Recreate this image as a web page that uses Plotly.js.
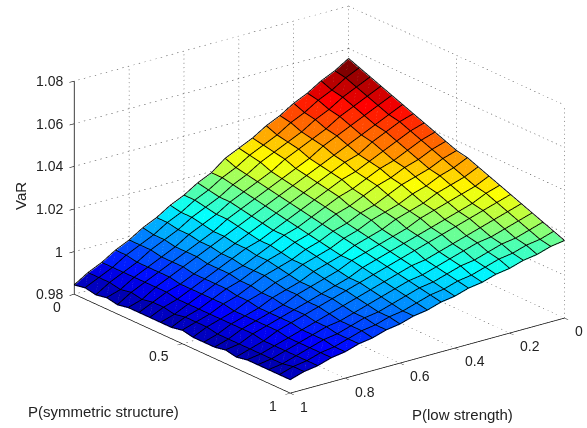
<!DOCTYPE html>
<html>
<head>
<meta charset="utf-8">
<script src="https://cdn.plot.ly/plotly-3.0.1.min.js"></script>
<style>html,body{margin:0;padding:0;background:#fff}#c{width:587px;height:428px}</style>
</head>
<body>
<div id="c"></div>
<script>
const pLow = [0,.05,.1,.15,.2,.25,.3,.35,.4,.45,.5,.55,.6,.65,.7,.75,.8,.85,.9,.95,1];
const pSym = [0,.05,.1,.15,.2,.25,.3,.35,.4,.45,.5,.55,.6,.65,.7,.75,.8,.85,.9,.95,1];
// VaR: one row per pSym, one column per pLow
const VaR = [
[1.055,1.051,1.048,1.044,1.041,1.037,1.034,1.030,1.027,1.024,1.019,1.016,1.012,1.009,1.005,1.002,.998,.995,.991,.988,.984],
[1.053,1.050,1.046,1.043,1.039,1.036,1.032,1.029,1.026,1.022,1.019,1.015,1.012,1.008,1.005,1.001,.998,.995,.991,.988,.985],
[1.051,1.048,1.045,1.041,1.038,1.034,1.031,1.028,1.025,1.021,1.018,1.014,1.011,1.008,1.004,1.001,.998,.994,.991,.988,.984],
[1.049,1.046,1.043,1.040,1.036,1.033,1.030,1.027,1.023,1.020,1.017,1.014,1.010,1.007,1.004,1.000,.997,.994,.991,.987,.985],
[1.047,1.044,1.041,1.038,1.035,1.032,1.028,1.025,1.022,1.019,1.016,1.013,1.010,1.006,1.003,1.000,.997,.994,.991,.988,.984],
[1.045,1.042,1.039,1.036,1.033,1.030,1.027,1.024,1.021,1.018,1.015,1.012,1.009,1.006,1.003,1.000,.997,.994,.991,.987,.985],
[1.043,1.041,1.038,1.035,1.031,1.029,1.026,1.023,1.020,1.017,1.014,1.011,1.008,1.005,1.002,.999,.996,.993,.991,.988,.985],
[1.041,1.039,1.036,1.033,1.030,1.027,1.025,1.022,1.019,1.016,1.013,1.010,1.007,1.005,1.002,.999,.996,.993,.990,.988,.985],
[1.039,1.037,1.034,1.031,1.029,1.026,1.023,1.021,1.018,1.015,1.012,1.010,1.007,1.004,1.001,.999,.996,.993,.990,.987,.985],
[1.037,1.035,1.032,1.030,1.027,1.025,1.022,1.019,1.017,1.014,1.011,1.009,1.006,1.004,1.001,.998,.996,.993,.990,.988,.985],
[1.035,1.033,1.030,1.028,1.026,1.023,1.020,1.018,1.015,1.013,1.010,1.008,1.005,1.003,1.001,.998,.995,.993,.990,.988,.986],
[1.034,1.031,1.029,1.026,1.024,1.021,1.019,1.017,1.014,1.012,1.009,1.007,1.005,1.002,1.000,.997,.995,.992,.990,.988,.985],
[1.032,1.029,1.027,1.025,1.022,1.020,1.018,1.015,1.013,1.011,1.008,1.006,1.004,1.001,.999,.997,.994,.992,.990,.987,.985],
[1.030,1.027,1.025,1.023,1.021,1.019,1.016,1.014,1.012,1.010,1.008,1.005,1.003,1.001,.999,.996,.994,.992,.990,.987,.985],
[1.028,1.026,1.023,1.021,1.019,1.017,1.015,1.013,1.011,1.009,1.007,1.004,1.002,1.000,.998,.996,.994,.992,.990,.987,.986],
[1.026,1.024,1.022,1.020,1.018,1.016,1.014,1.012,1.010,1.008,1.006,1.004,1.002,1.000,.998,.996,.994,.992,.989,.987,.985],
[1.024,1.022,1.020,1.018,1.016,1.014,1.012,1.010,1.009,1.007,1.005,1.003,1.001,.999,.997,.995,.993,.991,.989,.987,.986],
[1.022,1.020,1.018,1.016,1.015,1.013,1.011,1.009,1.007,1.006,1.004,1.002,1.000,.998,.996,.995,.993,.991,.989,.987,.986],
[1.020,1.018,1.016,1.015,1.013,1.011,1.010,1.008,1.006,1.005,1.003,1.001,.999,.998,.996,.994,.993,.991,.989,.987,.986],
[1.018,1.016,1.015,1.013,1.012,1.010,1.008,1.007,1.005,1.004,1.002,1.000,.999,.997,.996,.994,.992,.991,.989,.988,.986],
[1.016,1.015,1.013,1.012,1.010,1.009,1.007,1.006,1.004,1.003,1.001,1.000,.998,.997,.995,.994,.992,.991,.989,.988,.986]
];
const lowTicks = [0,.2,.4,.6,.8,1];
const symTicks = [0,.5,1];
const varTicks = [.98,1,1.02,1.04,1.06,1.08];
const varLabels = ['0.98','1','1.02','1.04','1.06','1.08'];
const lowLabels = ['0','0.2','0.4','0.6','0.8','1'];
const symLabels = ['0','0.5','1'];
const jet = [[0,'#00008f'],[.125,'#0000ff'],[.375,'#00ffff'],[.625,'#ffff00'],[.875,'#ff0000'],[1,'#800000']];

const n = pSym.length, m = pLow.length;
const mx=[],my=[],mz=[],ti=[],tj=[],tk=[],cell=[];
for(let r=0;r<n;r++)for(let c=0;c<m;c++){mx.push(pLow[c]);my.push(pSym[r]);mz.push(VaR[r][c]);}
for(let r=0;r<n-1;r++)for(let c=0;c<m-1;c++){
  const a=r*m+c,b=a+1,d=a+m,e=d+1;
  ti.push(a,a);tj.push(b,e);tk.push(e,d);
  cell.push(VaR[r][c],VaR[r][c]);
}
const traces=[{type:'mesh3d',x:mx,y:my,z:mz,i:ti,j:tj,k:tk,intensity:cell,intensitymode:'cell',
  colorscale:jet,cmin:.984,cmax:1.055,showscale:false,flatshading:true,hoverinfo:'skip',
  lighting:{ambient:1,diffuse:0,specular:0,roughness:1,fresnel:0}}];

// Wire lifted a hair above the facets so it does not fight with them in the depth buffer
const lift=.0004;
const wx=[],wy=[],wz=[];
for(let r=0;r<n;r++){for(let c=0;c<m;c++){wx.push(pLow[c]);wy.push(pSym[r]);wz.push(VaR[r][c]+lift);}wx.push(null);wy.push(null);wz.push(null);}
for(let c=0;c<m;c++){for(let r=0;r<n;r++){wx.push(pLow[c]);wy.push(pSym[r]);wz.push(VaR[r][c]+lift);}wx.push(null);wy.push(null);wz.push(null);}
traces.push({type:'scatter3d',mode:'lines',x:wx,y:wy,z:wz,line:{color:'#000',width:1.8},connectgaps:false,hoverinfo:'skip',showlegend:false});

// Faint pale dash across each cell's diagonal, as in the exported figure
const dx=[],dy=[],dz=[];
for(let r=0;r<n-1;r++)for(let c=0;c<m-1;c++){
  const mid=t=>{dx.push(pLow[c]+(pLow[c+1]-pLow[c])*t);dy.push(pSym[r]+(pSym[r+1]-pSym[r])*t);dz.push(VaR[r][c]+(VaR[r+1][c+1]-VaR[r][c])*t+lift);};
  mid(.3);mid(.7);dx.push(null);dy.push(null);dz.push(null);
}
traces.push({type:'scatter3d',mode:'lines',x:dx,y:dy,z:dz,opacity:.2,line:{color:'#fff',width:1},connectgaps:false,hoverinfo:'skip',showlegend:false});

const gx=[],gy=[],gz=[];
const z0=varTicks[0],z1=varTicks[varTicks.length-1];
const seg=(a,b,cnt)=>{ for(let q=0;q<cnt;q++){const f=q/cnt,h=(q+.25)/cnt;
  gx.push(a[0]+(b[0]-a[0])*f,a[0]+(b[0]-a[0])*h,null);
  gy.push(a[1]+(b[1]-a[1])*f,a[1]+(b[1]-a[1])*h,null);
  gz.push(a[2]+(b[2]-a[2])*f,a[2]+(b[2]-a[2])*h,null);} };
lowTicks.forEach(t=>{seg([t,0,z0],[t,1,z0],50);seg([t,0,z0],[t,0,z1],50);});
symTicks.forEach(t=>{seg([0,t,z0],[1,t,z0],50);seg([0,t,z0],[0,t,z1],50);});
varTicks.forEach(t=>{seg([0,0,t],[1,0,t],50);seg([0,0,t],[0,1,t],50);});
traces.push({type:'scatter3d',mode:'lines',x:gx,y:gy,z:gz,line:{color:'#333',width:1},connectgaps:false,hoverinfo:'skip',showlegend:false});

const fam='Liberation Sans, Arial, sans-serif';
const tf={family:fam,size:14,color:'#222'};
const ax=(vals,labels,range)=>({range:range,autorange:false,tickmode:'array',tickvals:vals,ticktext:labels,
  showgrid:false,zeroline:false,showbackground:false,showspikes:false,showline:true,linecolor:'#000',linewidth:1.5,
  ticks:'outside',ticklen:6,tickcolor:'#000',tickwidth:1.2,showticklabels:true,tickangle:0,
  tickfont:{family:fam,size:13,color:'rgba(0,0,0,0)'},title:{text:''}});
// Real text labels anchored to the axes; the floor ones sit a hair inside the z range so they stay shown
const zFloor=z0+.0003;
const lab=(x,y,z,text,xanchor,xshift,yshift)=>({x:x,y:y,z:z,text:text,showarrow:false,xanchor:xanchor,yanchor:'middle',xshift:xshift,yshift:yshift,font:tf});
const sceneLabels=[
  ...varTicks.map((t,i)=>lab(1,0,i===0?zFloor:t,varLabels[i],'right',-9,0)),
  ...symTicks.map((t,i)=>lab(1,t,zFloor,symLabels[i],'right',-11,-13)),
  ...lowTicks.map((t,i)=>lab(t,1,zFloor,lowLabels[i],'left',8,-14))
];
const layout={width:587,height:428,margin:{l:0,r:0,t:0,b:0},paper_bgcolor:'#fff',showlegend:false,
 scene:{domain:{x:[0,1],y:[0,1]},
  xaxis:ax(lowTicks,lowLabels,[0,1]),yaxis:ax(symTicks,symLabels,[0,1]),zaxis:ax(varTicks,varLabels,[z0,z1]),
  aspectmode:'manual',aspectratio:{x:1.62,y:1.65,z:1.065},annotations:sceneLabels,
  camera:{projection:{type:'orthographic'},up:{x:0,y:0,z:1},center:{x:.112,y:-.053,z:-.062},eye:{x:.766,y:.793,z:.343}}},
 annotations:[
  {xref:'paper',yref:'paper',x:103/587,y:1-411/428,xanchor:'center',yanchor:'middle',text:'P(symmetric structure)',showarrow:false,font:{family:fam,size:15,color:'#222'}},
  {xref:'paper',yref:'paper',x:463/587,y:1-414/428,xanchor:'center',yanchor:'middle',text:'P(low strength)',showarrow:false,font:{family:fam,size:15,color:'#222'}},
  {xref:'paper',yref:'paper',x:21/587,y:1-196/428,xanchor:'center',yanchor:'middle',text:'VaR',textangle:-90,showarrow:false,font:{family:fam,size:15,color:'#222'}}
 ]};
Plotly.newPlot('c',traces,layout,{displayModeBar:false});
</script>
</body>
</html>
